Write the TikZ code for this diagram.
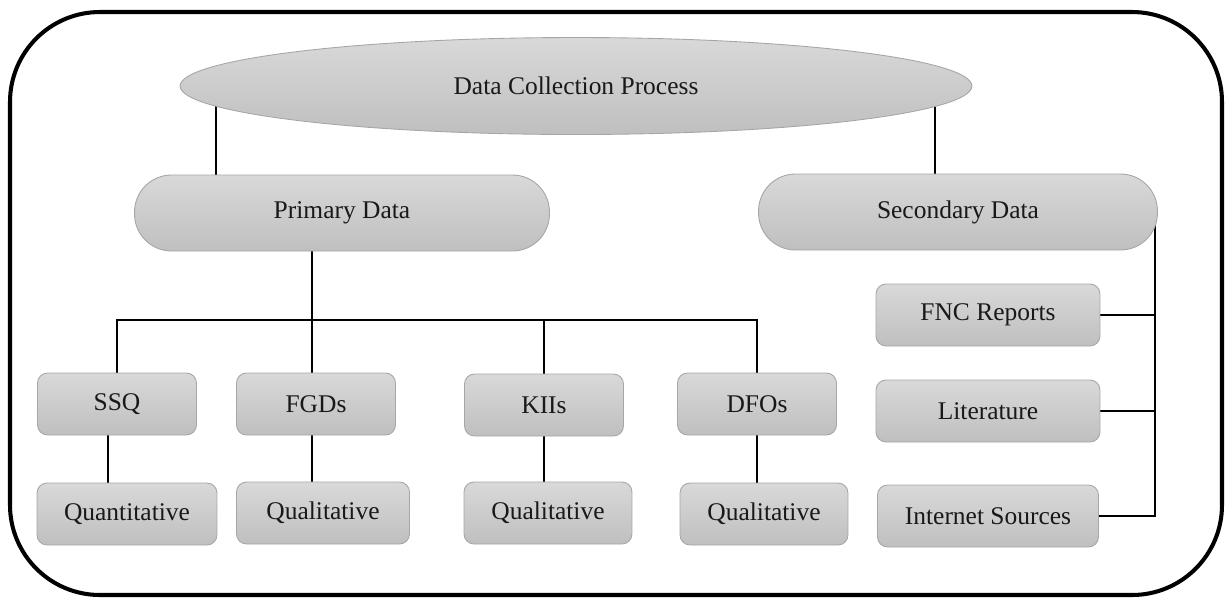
\documentclass[tikz,border=0pt]{standalone}
\usepackage{fontspec}
\setmainfont{Liberation Serif}
\usetikzlibrary{shapes.geometric,backgrounds}
\colorlet{shadetop}{black!15}
\colorlet{shadebottom}{black!25}
\colorlet{edge}{black!35}

\begin{document}
\begin{tikzpicture}[x=0.02cm,y=-0.02cm,
    every node/.style={font=\fontsize{14.5}{17}\selectfont,text=black!90},
    fill shade/.style={draw=edge,line width=0.5pt,top color=shadetop,bottom color=shadebottom},
    oval/.style={ellipse,fill shade,inner sep=0pt,minimum width=15.84cm,minimum height=1.94cm},
    capsule/.style={rectangle,rounded corners=0.74cm,fill shade,inner sep=0pt,minimum height=1.52cm},
    box/.style={rectangle,rounded corners=0.2cm,fill shade,inner sep=0pt,minimum height=1.24cm},
    link/.style={line width=1pt}]

\useasboundingbox (0,0) rectangle (1225,600);
\draw [line width=2.3pt,rounded corners=1.8cm] (10,12) rectangle (1222,595);

\node [oval] (top) at (576,86) {Data Collection Process};
\node [capsule,minimum width=8.3cm] (prim) at (342,213) {Primary Data};
\node [capsule,minimum width=7.98cm] (sec) at (958,212) {Secondary Data};

\node [box,minimum width=3.18cm] (ssq) at (117,404) {SSQ};
\node [box,minimum width=3.18cm] (fgd) at (316,404) {FGDs};
\node [box,minimum width=3.18cm] (kii) at (544,405) {KIIs};
\node [box,minimum width=3.18cm] (dfo) at (757,404) {DFOs};

\node [box,minimum width=3.6cm]  (quan) at (127,514) {Quantitative};
\node [box,minimum width=3.46cm] (qual1) at (323,513) {Qualitative};
\node [box,minimum width=3.36cm] (qual2) at (548,513) {Qualitative};
\node [box,minimum width=3.36cm] (qual3) at (764,514) {Qualitative};

\node [box,minimum width=4.48cm] (fnc) at (988,315) {FNC Reports};
\node [box,minimum width=4.48cm] (lit) at (988,411) {Literature};
\node [box,minimum width=4.42cm] (net) at (988,516) {Internet Sources};

\coordinate (tl) at (216,86);
\coordinate (tr) at (935,86);
\coordinate (bus) at (312,320);
\coordinate (sb) at (1155,232);

\begin{scope}[on background layer]
\draw [link] (top.center -| tl) -- (prim.north -| tl);
\draw [link] (top.center -| tr) -- (sec.north -| tr);
\draw [link] (prim.center -| bus) -- (bus);
\draw [link] (ssq.north) -- (ssq.north |- bus) -- (dfo.north |- bus) -- (dfo.north);
\draw [link] (bus) -- (fgd.north -| bus);
\draw [link] (kii.north |- bus) -- (kii.north);
\draw [link] (ssq.south -| 108,0) -- (quan.north -| 108,0);
\draw [link] (fgd.south -| bus) -- (qual1.north -| bus);
\draw [link] (kii.south) -- (qual2.north -| kii.south);
\draw [link] (dfo.south) -- (qual3.north -| dfo.south);
\draw [link] (sec.center -| sb) -- (net.east -| sb) -- (net.east);
\draw [link] (fnc.east) -- (fnc.east -| sb);
\draw [link] (lit.east) -- (lit.east -| sb);
\end{scope}

\end{tikzpicture}
\end{document}
